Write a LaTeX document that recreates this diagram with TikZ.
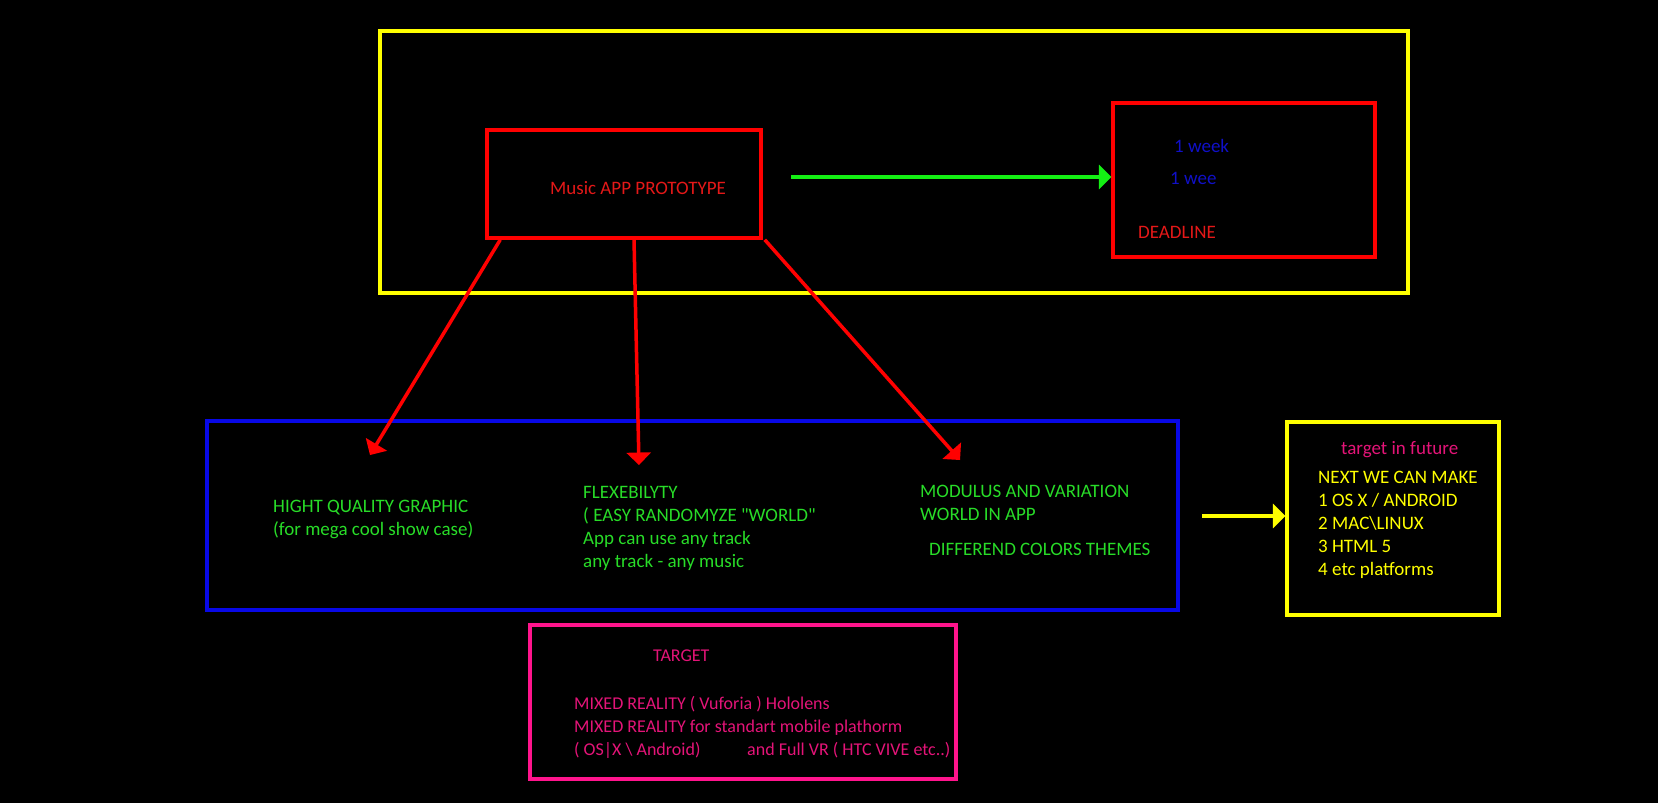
\documentclass[tikz,border=0pt]{standalone}
\usepackage{fontspec}
\setmainfont{Carlito}
\usepackage{tikz}
\usetikzlibrary{arrows, calc, positioning}

\definecolor{fyellow}{RGB}{255,255,0}
\definecolor{fred}{RGB}{255,0,0}
\definecolor{tred}{RGB}{228,24,24}
\definecolor{fblue}{RGB}{8,8,230}
\definecolor{tblue}{RGB}{16,16,200}
\definecolor{fgreen}{RGB}{20,240,20}
\definecolor{tgreen}{RGB}{40,220,40}
\definecolor{fpink}{RGB}{255,20,140}
\definecolor{tpink}{RGB}{228,20,120}

\begin{document}
\begin{tikzpicture}[x=1pt, y=-1pt, font=\fontsize{19}{23}\selectfont,
  box/.style={draw, line width=3.5pt, inner sep=0pt},
  txt/.style={inner sep=0pt, align=left},
  pinktxt/.style={txt, tpink, font=\fontsize{18}{23}\selectfont},
  link/.style={line width=3.5pt, -triangle 90}]
\fill[black] (0,0) rectangle (1658,803);
\useasboundingbox (0,0) rectangle (1658,803);

% boxes
\node[box, draw=fyellow, minimum width=1028pt, minimum height=262pt] (frame) at (894,162) {};
\node[box, draw=fred, minimum width=274pt, minimum height=108pt] (music) at (624,184) {};
\node[box, draw=fred, minimum width=262pt, minimum height=154pt] (deadline) at (1244,180) {};
\node[box, draw=fblue, minimum width=971pt, minimum height=189pt] (features) at (692.5,515.5) {};
\node[box, draw=fyellow, minimum width=212pt, minimum height=193pt] (future) at (1393,518.5) {};
\node[box, draw=fpink, minimum width=426pt, minimum height=154pt] (target) at (743,702) {};

% texts
\node[txt, tred, anchor=base] (musictxt) at (638,194) {Music APP PROTOTYPE};
\node[txt, tblue, anchor=base west] (week) at (1174,152) {1 week};
\node[txt, tblue, anchor=base west] (wee) at (1170,184) {1 wee};
\node[txt, tred, anchor=base west] (deadtxt) at (1138,238) {DEADLINE};

\node[txt, tgreen, anchor=north west] (graphic) at (273,500) {HIGHT QUALITY GRAPHIC\\(for mega cool show case)};
\node[txt, tgreen, anchor=north west] (flex) at (583,486) {FLEXEBILYTY\\( EASY RANDOMYZE \textquotedbl WORLD\textquotedbl\\App can use any track\\any track - any music};
\node[txt, tgreen, anchor=north west] (modulus) at (920,485) {MODULUS AND VARIATION\\WORLD IN APP};
\node[txt, tgreen, anchor=base west] (themes) at (929,555) {DIFFEREND COLORS THEMES};

\node[txt, tpink, anchor=base west] (futuretitle) at (1341,454) {target in future};
\node[txt, fyellow, anchor=north west] (nextlist) at (1318,471) {NEXT WE CAN MAKE\\1 OS X / ANDROID\\2 MAC\textbackslash LINUX\\3 HTML 5\\4 etc platforms};

\node[pinktxt, anchor=base west] (targettitle) at (653,661) {TARGET};
\node[pinktxt, anchor=north west] (targetlist) at (574,696) {MIXED REALITY ( Vuforia ) Hololens\\MIXED REALITY for standart mobile plathorm\\( OS|X \textbackslash{} Android)\hspace{2.6em}and Full VR ( HTC VIVE etc..)};

% arrow ends
\coordinate (tipA) at (370,455);
\coordinate (tipB) at (639,465);
\coordinate (tipC) at (960,460);
\coordinate (greenfrom) at (791,177);
\coordinate (yellowfrom) at (1202,516);

% arrows
\draw[link, fgreen] (greenfrom) -- (deadline.west |- greenfrom);
\draw[link, fred] ([xshift=15pt]music.south west) -- (tipA);
\draw[link, fred] ([xshift=10pt]music.south) -- (tipB);
\draw[link, fred] ([xshift=2pt]music.south east) -- (tipC);
\draw[link, fyellow] (yellowfrom) -- (future.west |- yellowfrom);
\end{tikzpicture}
\end{document}
